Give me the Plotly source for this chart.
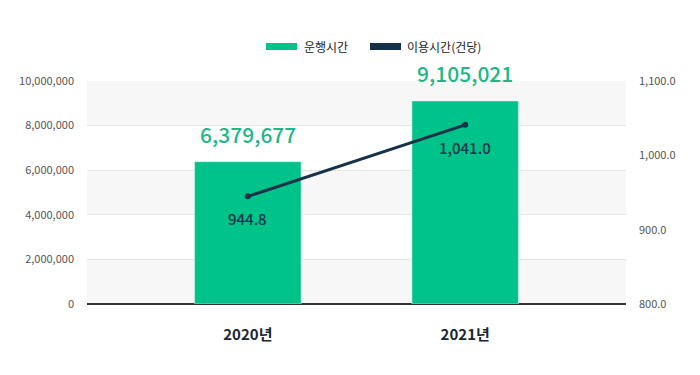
import plotly.graph_objects as go

years = ["2020년", "2021년"]
run_hours = [6379677, 9105021]
use_hours = [944.8, 1041.0]
bar_name = "운행시간"
line_name = "이용시간(건당)"

GREEN = "#00c389"
GREEN_TXT = "#1db886"
NAVY = "#15324a"
FONT = "Noto Sans CJK KR"

fig = go.Figure()
fig.add_trace(go.Bar(x=years, y=run_hours, name=bar_name, marker_color=GREEN,
                     width=0.49, showlegend=False, hoverinfo="skip"))
fig.add_trace(go.Scatter(x=years, y=use_hours, name=line_name, yaxis="y2",
                         mode="lines+markers", line=dict(color=NAVY, width=3),
                         marker=dict(color=NAVY, size=6), showlegend=False))

# alternating bands
for lo, hi in [(0, 2e6), (4e6, 6e6), (8e6, 10e6)]:
    fig.add_shape(type="rect", xref="paper", yref="y", x0=0, x1=1, y0=lo, y1=hi,
                  fillcolor="#f7f7f7", line_width=0, layer="below")

for x, v in zip(years, run_hours):
    fig.add_annotation(x=x, y=v, text=f"{v:,}", showarrow=False, yanchor="bottom",
                       yshift=11, font=dict(family=FONT, size=21, color=GREEN_TXT, weight=500))
for x, v in zip(years, use_hours):
    fig.add_annotation(x=x, y=v, yref="y2", text=f"{v:,.1f}", showarrow=False,
                       yanchor="top", yshift=-10,
                       font=dict(family=FONT, size=15, color=NAVY, weight=500))

# legend (page pixel positions converted to paper fractions)
W, H = 539.0, 223.0
def px(v):
    return (v - 87) / W
def py(v):
    return (304 - v) / H
for (x0, x1, col, tx, label) in [(266, 297, GREEN, 302, bar_name), (370, 401, NAVY, 405, line_name)]:
    fig.add_shape(type="rect", xref="paper", yref="paper", x0=px(x0), x1=px(x1),
                  y0=py(50), y1=py(43), fillcolor=col, line_width=0)
    fig.add_annotation(xref="paper", yref="paper", x=px(tx), y=py(46.5), text=label,
                       showarrow=False, xanchor="left", yanchor="middle",
                       font=dict(family=FONT, size=12, color="#222"))

fig.update_layout(
    width=700, height=375,
    margin=dict(l=79, r=82, t=73, b=79),
    paper_bgcolor="white", plot_bgcolor="white",
    font=dict(family=FONT, color="#555"),
    xaxis=dict(range=[-0.74, 1.74], showgrid=False, showline=False, zeroline=False,
               ticks="", ticklabelstandoff=20,
               tickfont=dict(family=FONT, size=15, color="#1a2633", weight="bold")),
    yaxis=dict(range=[0, 10e6], tickvals=[0, 2e6, 4e6, 6e6, 8e6, 10e6], tickformat=",d",
               gridcolor="#e6e6e6", gridwidth=1, zeroline=True, zerolinecolor="#333",
               zerolinewidth=1.5, showline=False, ticks="", ticklabelstandoff=12,
               tickfont=dict(family=FONT, size=11, color="#555")),
    yaxis2=dict(range=[800, 1100], tickvals=[800, 900, 1000, 1100], tickformat=",.1f",
                overlaying="y", side="right", showgrid=False, zeroline=False,
                ticks="", ticklabelstandoff=12,
                tickfont=dict(family=FONT, size=11, color="#555")),
)

fig.write_html("out.html")
